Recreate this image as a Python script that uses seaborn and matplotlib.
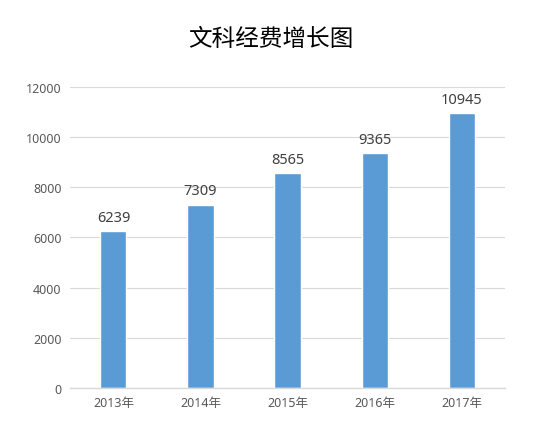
import matplotlib
matplotlib.use("Agg")
import matplotlib.pyplot as plt
import pandas as pd
import seaborn as sns

years = ["2013年", "2014年", "2015年", "2016年", "2017年"]
funding = [6239, 7309, 8565, 9365, 10945]
y_ticks = [0, 2000, 4000, 6000, 8000, 10000, 12000]
title = "文科经费增长图"

sns.set_theme(style="white")
plt.rcParams["font.family"] = ["Noto Sans", "Noto Sans CJK SC", "DejaVu Sans"]

df = pd.DataFrame({"year": years, "funding": funding})

fig = plt.figure(figsize=(5.42, 4.39), dpi=100)
ax = fig.add_axes([0.129, 0.114, 0.803, 0.686])

sns.barplot(data=df, x="year", y="funding", color="#5B9BD5", saturation=1,
            width=0.3, ax=ax)

for i, v in enumerate(df["funding"]):
    ax.text(i, v + 250, f"{v}", ha="center", va="bottom", fontsize=10.5, color="#404040")

ax.set_ylim(0, 12000)
ax.set_yticks(y_ticks)
ax.set_xlim(-0.5, len(years) - 0.5)
ax.yaxis.grid(True, color="#D9D9D9", lw=0.8)
ax.set_axisbelow(True)
for side in ("top", "right", "left"):
    ax.spines[side].set_visible(False)
ax.spines["bottom"].set_color("#D9D9D9")
ax.spines["bottom"].set_linewidth(1)
ax.tick_params(axis="both", length=0, labelsize=9, colors="#595959", pad=6)
ax.set_xlabel("")
ax.set_ylabel("")

fig.text(0.5, 0.91, title, ha="center", va="center", fontsize=17,
         family=["Noto Sans CJK SC"], fontweight="medium", color="black")

fig.savefig("out.png", dpi=100)
